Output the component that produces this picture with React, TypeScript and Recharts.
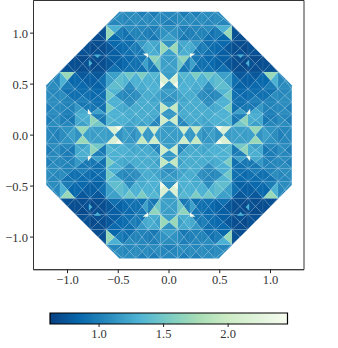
import React from "react";
import { ScatterChart, Scatter, XAxis, YAxis, ReferenceArea, BarChart, Bar } from "recharts";

// mesh grid lines (data units, positive side; first one bounds the centre cell)
const gridLines = [0.086, 0.207, 0.325, 0.453, 0.62, 0.778, 0.926, 1.074, 1.21];
const cutSum = 1.7;
const axisTicks = [-1, -0.5, 0, 0.5, 1];
const barTicks = [1, 1.5, 2];
const barMin = 0.62;
const barMax = 2.46;
const palette = ["#084081", "#0868ac", "#2b8cbe", "#4eb3d3", "#7bccc4", "#a8ddb5", "#ccebc5", "#e0f3db", "#f7fcf0"];

// values per cell of one octant: [north, east, south, west]
const row0 = [[1.18, 1.18, 1.18, 1.18]];
const row1 = [[1.15, 2.05, 1.18, 2.05], [1.25, 1.25, 1.05, 1.05]];
const row2 = [[1.18, 1.95, 1.15, 1.95], [1.27, 1.27, 1.27, 1.2], [1.27, 1.27, 1.27, 1.27]];
const row3 = [[1.2, 1.15, 1.1, 1.15], [1.3, 1.27, 1.22, 1.22], [1.24, 1.1, 1.27, 1.27], [1.05, 1.05, 1.08, 1.08]];
const row4 = [[1.18, 2.15, 1.12, 2.15], [1.35, 1.3, 1.3, 1.27], [1.55, 1.3, 1.27, 1.3], [1.5, 1.33, 1.08, 1.3], [1.2, 1.2, 1.4, 1.4]];
const row5 = [[1.18, 1.2, 1.2, 1.2], [1.65, 1.0, 0.95, 1.5], [0.95, 0.9, 0.9, 1.2], [0.86, 0.86, 0.9, 0.9], [0.8, 0.76, 0.9, 0.82], [0.7, 0.68, 0.7, 0.7]];
const row6 = [[1.12, 1.7, 1.2, 1.7], [1.25, 1.28, 1.28, 1.2], [1.15, 0.95, 0.95, 1.25], [0.9, 0.88, 0.9, 1.0], [0.86, 0.76, 0.8, 0.86], [0.7, 0.68, 0.72, 0.7], [0.68, 0.68, 0.72, 0.72]];
const row7 = [[1.08, 1.12, 1.2, 1.12], [1.0, 0.98, 0.95, 1.05], [1.05, 1.02, 1.02, 1.0], [1.08, 0.92, 0.9, 1.02], [1.3, 1.7, 0.85, 0.98], [0.7, 0.68, 0.7, 0.72], [0.7, 0.7, 0.7, 0.7], [0.7, 0.7, 0.7, 0.7]];
const row8 = [[1.05, 1.05, 1.0, 1.05], [0.98, 1.05, 1.08, 1.08], [1.0, 1.08, 1.05, 1.08], [1.08, 1.05, 1.05, 1.08], [1.08, 1.0, 1.05, 1.08], [1, 1, 1, 1], [1, 1, 1, 1], [1, 1, 1, 1], [1, 1, 1, 1]];
const rows = [row0, row1, row2, row3, row4, row5, row6, row7, row8];

// small extra triangles of one octant: x1, y1, x2, y2, x3, y3, value
const accents = [
  [0.67, 0.79, 0.74, 0.79, 0.705, 0.755, 1.3],
  [0.207, 0.8, 0.26, 0.8, 0.207, 0.76, 2.42],
  [0.086, 0.46, 0.086, 0.53, 0.04, 0.495, 2.42],
];

type P = { x: number; y: number };

function colorOf(v: number) {
  const t = Math.max(0, Math.min(0.9999, (v - barMin) / (barMax - barMin))) * (palette.length - 1);
  const i = Math.floor(t);
  const f = t - i;
  const c = (h: string, o: number) => parseInt(h.slice(o, o + 2), 16);
  const mix = (o: number) => Math.round(c(palette[i], o) * (1 - f) + c(palette[i + 1], o) * f);
  return `rgb(${mix(1)},${mix(3)},${mix(5)})`;
}

function cellRange(i: number): [number, number] {
  if (i === 0) return [-gridLines[0], gridLines[0]];
  return i > 0 ? [gridLines[i - 1], gridLines[i]] : [-gridLines[-i], -gridLines[-i - 1]];
}

// dir: 0 N, 1 E, 2 S, 3 W
function lookup(ix: number, iy: number, dir: number) {
  let d = dir;
  if (iy < 0 && (d === 0 || d === 2)) d = 2 - d;
  if (ix < 0 && (d === 1 || d === 3)) d = 4 - d;
  let a = Math.abs(ix);
  let b = Math.abs(iy);
  if (a > b) {
    const s = a;
    a = b;
    b = s;
    d = [1, 0, 3, 2][d];
  }
  return rows[b][a][d];
}

function clipHalf(poly: P[], sx: number, sy: number) {
  const f = (p: P) => cutSum - sx * p.x - sy * p.y;
  const out: P[] = [];
  poly.forEach((p, i) => {
    const q = poly[(i + 1) % poly.length];
    const fp = f(p);
    const fq = f(q);
    if (fp >= 0) out.push(p);
    if (fp >= 0 !== fq >= 0) {
      const t = fp / (fp - fq);
      out.push({ x: p.x + (q.x - p.x) * t, y: p.y + (q.y - p.y) * t });
    }
  });
  return out;
}

const vertices: P[] = [];
const polys: { start: number; n: number; fill: string; line: boolean }[] = [];
for (let iy = -8; iy <= 8; iy++) {
  for (let ix = -8; ix <= 8; ix++) {
    const [x0, x1] = cellRange(ix);
    const [y0, y1] = cellRange(iy);
    const c = { x: (x0 + x1) / 2, y: (y0 + y1) / 2 };
    const tris: P[][] = [
      [{ x: x0, y: y1 }, { x: x1, y: y1 }, c],
      [{ x: x1, y: y1 }, { x: x1, y: y0 }, c],
      [{ x: x1, y: y0 }, { x: x0, y: y0 }, c],
      [{ x: x0, y: y0 }, { x: x0, y: y1 }, c],
    ];
    tris.forEach((t, d) => {
      let poly = t;
      for (const [sx, sy] of [[1, 1], [1, -1], [-1, 1], [-1, -1]]) {
        if (poly.length) poly = clipHalf(poly, sx, sy);
      }
      if (poly.length < 3) return;
      polys.push({ start: vertices.length, n: poly.length, fill: colorOf(lookup(ix, iy, d)), line: true });
      vertices.push(...poly);
    });
  }
}
for (const a of accents) {
  for (const swap of [false, true]) {
    for (const sx of [1, -1]) {
      for (const sy of [1, -1]) {
        polys.push({ start: vertices.length, n: 3, fill: colorOf(a[6]), line: false });
        for (let k = 0; k < 3; k++) {
          const u = a[k * 2];
          const v = a[k * 2 + 1];
          vertices.push(swap ? { x: sx * v, y: sy * u } : { x: sx * u, y: sy * v });
        }
      }
    }
  }
}

function Mesh(props: any) {
  const pts: { x: number; y: number }[] = props.points || [];
  return (
    <g>
      {polys.map((p, i) => (
        <polygon
          key={i}
          points={pts.slice(p.start, p.start + p.n).map((q) => `${q.x},${q.y}`).join(" ")}
          fill={p.fill}
          stroke={p.line ? "#ffffff" : "none"}
          strokeOpacity={0.13}
          strokeWidth={0.6}
        />
      ))}
    </g>
  );
}

const fmt = (v: number) => (v < 0 ? "\u2212" + (-v).toFixed(1) : v.toFixed(1));
const tickStyle = { fontFamily: "'Liberation Serif', serif", fontSize: 12.5, fill: "#333" };
const barData = [{ name: "c", range: [barMin, barMax] }];

export default function App() {
  return (
    <div style={{ position: "absolute", left: 0, top: 0, width: 338, height: 348, background: "#fff" }}>
      <div style={{ position: "absolute", left: 0, top: 0 }}>
        <ScatterChart width={338} height={292} margin={{ top: 0.5, right: 34, bottom: 2.3, left: 0 }}>
          <XAxis
            type="number"
            dataKey="x"
            domain={[-1.335, 1.33]}
            allowDataOverflow
            ticks={axisTicks}
            tickFormatter={fmt}
            tickSize={3.5}
            height={20}
            axisLine={{ stroke: "#333" }}
            tickLine={{ stroke: "#222" }}
            tick={tickStyle}
            interval={0}
          />
          <YAxis
            type="number"
            dataKey="y"
            domain={[-1.32, 1.32]}
            allowDataOverflow
            ticks={axisTicks}
            tickFormatter={fmt}
            tickSize={3.5}
            width={33.5}
            axisLine={{ stroke: "#333" }}
            tickLine={{ stroke: "#222" }}
            tick={tickStyle}
            interval={0}
          />
          <Scatter data={vertices} isAnimationActive={false} line={(p: any) => <Mesh {...p} />} shape={() => <g />} />
          <ReferenceArea x1={-1.335} x2={1.33} y1={-1.32} y2={1.32} fill="none" stroke="#333" strokeWidth={1} ifOverflow="visible" />
        </ScatterChart>
      </div>
      <div style={{ position: "absolute", left: 0, top: 300 }}>
        <BarChart width={338} height={48} layout="vertical" data={barData} margin={{ top: 13, right: 50.5, bottom: 4.5, left: 50 }} barCategoryGap={0}>
          <defs>
            <linearGradient id="cbar" x1="0" y1="0" x2="1" y2="0">
              {palette.map((c, i) => (
                <stop key={c} offset={i / (palette.length - 1)} stopColor={c} />
              ))}
            </linearGradient>
          </defs>
          <XAxis
            type="number"
            domain={[barMin, barMax]}
            ticks={barTicks}
            tickFormatter={(v: number) => v.toFixed(1)}
            tickSize={3.5}
            height={20}
            axisLine={false}
            tickLine={{ stroke: "#222" }}
            tick={tickStyle}
            interval={0}
          />
          <YAxis type="category" dataKey="name" hide />
          <Bar dataKey="range" fill="url(#cbar)" stroke="#000" strokeWidth={1.2} isAnimationActive={false} />
        </BarChart>
      </div>
    </div>
  );
}
